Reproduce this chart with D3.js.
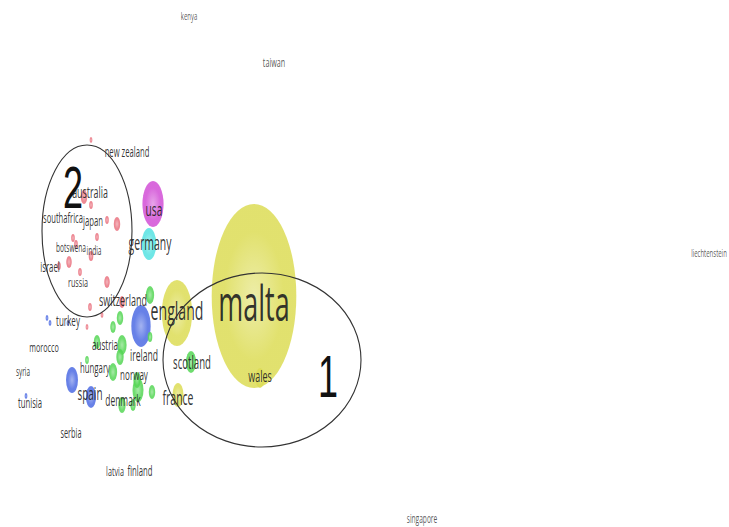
<!DOCTYPE html>
<html><head><meta charset="utf-8">
<script src="https://cdn.jsdelivr.net/npm/d3@7"></script>
<style>html,body{margin:0;padding:0;background:#fff;}svg{display:block;}</style>
</head><body>
<svg id="chart" width="729" height="527"></svg>
<script>
// ---- DATA (map coordinates) ----
const labelNames = ["kenya","taiwan","liechtenstein","singapore","new zealand","australia","southafrica","japan","botswena","india","israel","russia","switzerland","usa","germany","england","malta","wales","scotland","france","ireland","turkey","morocco","austria","hungary","norway","syria","tunisia","spain","denmark","serbia","latvia","finland"];
const labelX = [189,274,709,422,127,90,63,93,71,94,50,78,123,154,150,177,254,260,192,178,144,68,44,105,95,134,23,30,90,123,71,115,140];
const labelY = [20,67,257,523,157,198,223,226,252,255,272,287,306,216,250,320,321,382,369,405,361,326,352,350,373,380,376,408,400,406,438,476,476];
const labelWeight = [10,12,10,11,12.8,14.8,12.7,12.9,11,11,13,12,15,17,17.4,23.5,45,15,16,17.5,14.4,13.4,12,13.5,13,13.4,10.6,12.9,16.6,14,12.2,12,12.9];

const bubbleX = [254,177,260,178,191,150,153,149,141,72,91,47,50,68,26,
  120,113,97,122,120,87,113,137,138,152,122,133,150,
  91,84,91,107,117,97,73,76,91,69,59,80,107,90,102,87,122];
const bubbleY = [296,313,378,395,362,295,204,244,326,380,397,318,323,323,396,
  318,327,342,345,357,360,372,380,390,392,405,405,337,
  140,197,205,220,224,237,238,244,256,262,266,272,282,307,315,327,302];
const bubbleWeight = [92,33,10,12,11,9,23,16,21,13,11,3,3,3,3,
  7,6,7,10,8,4,9,8,12,7,8,6,5,
  3,7,4,4,7,4,4,4,5,6,4,4,6,4,3,3,6];
const bubbleCluster = [1,1,1,1,3,3,5,6,4,4,4,4,4,4,4,
  3,3,3,3,3,3,3,3,3,3,3,3,3,
  2,2,2,2,2,2,2,2,2,2,2,2,2,2,2,2,2];

const groupNames = ["1","2"];
const groupX = [262,87];
const groupY = [360,231];
const groupRX = [99,45];
const groupRY = [87,86];
const groupLabelX = [328,73];
const groupLabelY = [397,208];

// ---- SCALES ----
const W = 729, H = 527;
const x = d3.scaleLinear().domain([0, 729]).range([0, W]);
const y = d3.scaleLinear().domain([0, 527]).range([0, H]);
const ry = d3.scaleLinear().domain([0, 100]).range([0, 100]);
const rxFactor = 0.46;
const textSquash = 0.54;
const fontSize = d3.scaleLinear().domain([0, 50]).range([0, 50 * 0.6 / textSquash]);

const colors = d3.scaleOrdinal().domain([1,2,3,4,5,6])
  .range(["#dcdc55","#e86a78","#55d655","#4d6be3","#d24fd6","#55e2e2"]);

const svg = d3.select("#chart");
const defs = svg.append("defs");
colors.domain().forEach(c => {
  const base = d3.color(colors(c));
  const g = defs.append("radialGradient").attr("id", "grad" + c);
  g.append("stop").attr("offset", "0%").attr("stop-color", d3.interpolateRgb(base, "#ffffff")(0.4));
  g.append("stop").attr("offset", "70%").attr("stop-color", base.formatHex());
  g.append("stop").attr("offset", "100%").attr("stop-color", base.formatHex());
});

const bubbles = bubbleX.map((bx, i) => ({x: bx, y: bubbleY[i], r: bubbleWeight[i], c: bubbleCluster[i]}))
  .sort((a, b) => b.r - a.r);

svg.append("g").selectAll("ellipse").data(bubbles).join("ellipse")
  .attr("cx", d => x(d.x)).attr("cy", d => y(d.y))
  .attr("rx", d => ry(d.r) * rxFactor).attr("ry", d => ry(d.r))
  .attr("fill", d => `url(#grad${d.c})`)
  .attr("fill-opacity", d => d.c === 2 ? 0.8 : 0.85);

const labels = labelNames.map((n, i) => ({n, x: labelX[i], y: labelY[i], w: labelWeight[i]}));
svg.append("g").selectAll("text").data(labels).join("text")
  .attr("transform", d => `translate(${x(d.x)},${y(d.y)}) scale(${textSquash},1)`)
  .attr("text-anchor", "middle")
  .attr("font-family", "'Open Sans', sans-serif")
  .attr("font-size", d => fontSize(d.w))
  .attr("fill", d => d.w < 12.5 && (d.y < 100 || d.x > 400) ? "#4a4a4a" : "#222")
  .attr("fill-opacity", 0.92)
  .text(d => d.n);

const groups = groupNames.map((n, i) => ({n, x: groupX[i], y: groupY[i], rx: groupRX[i], ry: groupRY[i], lx: groupLabelX[i], ly: groupLabelY[i]}));
svg.append("g").selectAll("ellipse").data(groups).join("ellipse")
  .attr("cx", d => x(d.x)).attr("cy", d => y(d.y))
  .attr("rx", d => d.rx).attr("ry", d => d.ry)
  .attr("fill", "none").attr("stroke", "#333").attr("stroke-width", 1.1);

svg.append("g").selectAll("text").data(groups).join("text")
  .attr("transform", d => `translate(${x(d.lx)},${y(d.ly)}) scale(0.6,1)`)
  .attr("text-anchor", "middle")
  .attr("font-family", "'Liberation Sans', Arial, sans-serif")
  .attr("font-size", 60)
  .attr("fill", "#111")
  .text(d => d.n);
</script>
</body></html>
